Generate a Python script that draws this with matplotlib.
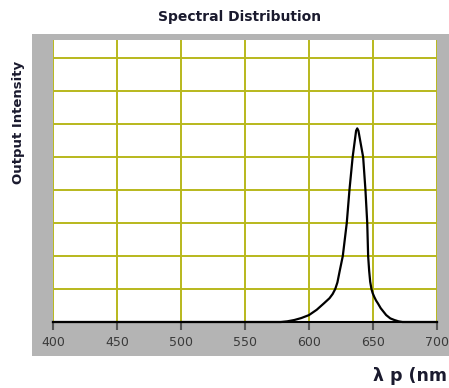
import matplotlib.pyplot as plt

# Spectrum (nm, relative intensity in grid units)
wavelength = [400, 578, 583, 588.5, 594, 600, 606, 611.5, 616, 618.5, 620.5, 622.2, 624,
              626.4, 629.5, 631.6, 634.1, 636.8, 637.7, 638.6, 642.3, 644.1, 645.5, 646.2,
              647, 647.8, 648.8, 649.7, 651, 652.4, 653.9, 656, 660.3, 663.5, 666.7, 670,
              673, 700]
intensity = [0, 0, 0.02, 0.06, 0.12, 0.21, 0.37, 0.56, 0.72, 0.85, 1.0, 1.2, 1.55,
             2.0, 3.0, 4.0, 5.0, 5.8, 5.87, 5.8, 5.0, 4.0, 3.0, 2.0,
             1.55, 1.22, 1.0, 0.88, 0.76, 0.65, 0.56, 0.42, 0.21, 0.11, 0.06, 0.02,
             0, 0]
xticks = [400, 450, 500, 550, 600, 650, 700]
ygrid = [1, 2, 3, 4, 5, 6, 7, 8]

fig = plt.figure(figsize=(4.49, 3.88), dpi=100)

# gray frame behind the plot
bg = fig.add_axes([32 / 449, 32 / 388, 417 / 449, 322 / 388], zorder=0)
bg.set_facecolor('#b4b4b4')
bg.set_xticks([])
bg.set_yticks([])
for s in bg.spines.values():
    s.set_visible(False)

ax = fig.add_axes([53 / 449, 66 / 388, 384 / 449, 282 / 388], zorder=1)
ax.set_facecolor('white')
ax.plot(wavelength, intensity, color='black', lw=1.6, clip_on=False, zorder=3)

ax.set_xlim(400, 700)
ax.set_ylim(0, 8.55)
ax.set_xticks(xticks)
ax.set_yticks(ygrid)
ax.grid(True, color='#b8b81c', lw=1.4)
ax.tick_params(axis='x', direction='out', length=6, width=1.5, color='#555555',
               labelsize=9, labelcolor='#3a3a3a', pad=4)
ax.tick_params(axis='y', length=0, labelleft=False)
for side in ['top', 'left', 'right']:
    ax.spines[side].set_visible(False)
ax.spines['bottom'].set_color('black')
ax.spines['bottom'].set_linewidth(1.5)

fig.text(240 / 449, 1 - 17 / 388, 'Spectral Distribution', ha='center', va='center',
         fontsize=10, fontweight='bold', color='#1a1a2e')
fig.text(19 / 449, 1 - 122 / 388, 'Output Intensity', ha='center', va='center',
         rotation=90, fontsize=9.5, fontweight='bold', color='#1a1a2e')
fig.text(447 / 449, 1 - 376 / 388, 'λ p (nm', ha='right', va='center',
         fontsize=12.5, fontweight='bold', color='#1a1a2e')

fig.savefig('out.png', dpi=100)
